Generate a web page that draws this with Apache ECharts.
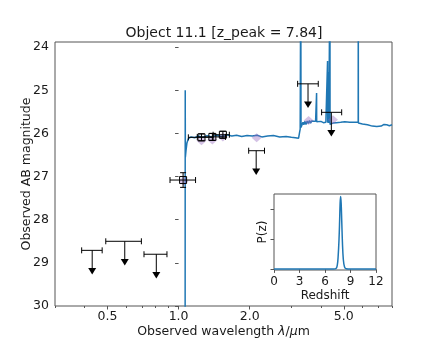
<!DOCTYPE html>
<html>
<head>
<meta charset="utf-8">
<script src="https://cdn.jsdelivr.net/npm/echarts@6/dist/echarts.min.js"></script>
<style>
html, body { margin: 0; padding: 0; background: #fff; }
#chart { width: 436px; height: 349px; }
</style>
</head>
<body>
<div id="chart"></div>
<script>
// model spectrum (wavelength in micron, AB mag)
var specLam = [0.30, 1.0655, 1.0670, 1.0685, 1.075, 1.085, 1.10, 1.13, 1.17, 1.21, 1.26, 1.32, 1.38, 1.45, 1.52, 1.60, 1.68, 1.76, 1.85, 1.95,
	2.05, 2.15, 2.25, 2.38, 2.52, 2.68, 2.85, 3.00, 3.12, 3.22, 3.245, 3.255, 3.27, 3.283, 3.289, 3.291, 3.297, 3.33, 3.36, 3.39, 3.42,
	3.46, 3.50, 3.54, 3.58, 3.62, 3.66, 3.72, 3.80, 3.833, 3.837, 3.841, 3.90, 4.00, 4.10, 4.20, 4.265, 4.27, 4.275, 4.315, 4.32,
	4.325, 4.365, 4.37, 4.375, 4.42, 4.50, 4.65, 4.85, 5.05, 5.30, 5.55, 5.755, 5.76, 5.765, 6.0, 6.3, 6.6, 6.9, 7.2, 7.4,
	7.5, 7.6, 7.8, 8.0];
var specMag = [34, 34, 25.0, 26.55, 26.40, 26.22, 26.12, 26.08, 26.10, 26.06, 26.09, 26.05, 26.08, 26.04, 26.07, 26.03, 26.06, 26.04, 26.07, 26.05,
	26.06, 26.04, 26.08, 26.06, 26.05, 26.08, 26.07, 26.09, 26.10, 26.11, 26.12, 25.96, 25.90, 25.87, 22.0, 22.0, 25.86, 25.80, 25.74, 25.80, 25.72,
	25.79, 25.71, 25.77, 25.70, 25.76, 25.71, 25.74, 25.72, 25.73, 25.06, 25.73, 25.74, 25.72, 25.75, 25.74, 25.75, 24.32, 25.75, 25.75, 24.58,
	25.76, 25.77, 22.0, 25.79, 25.82, 25.76, 25.75, 25.74, 25.73, 25.74, 25.74, 25.74, 22.0, 25.76, 25.78, 25.80, 25.83, 25.84, 25.83, 25.79,
	25.76, 25.80, 25.82, 25.80];

// model photometry
var modelLam = [1.05, 1.25, 1.39, 1.54, 2.14, 3.55, 4.50];
var modelMag = [27.10, 26.17, 26.15, 26.08, 26.10, 25.70, 25.68];

// detections
var photLam = [1.045, 1.25, 1.39, 1.54];
var photLo = [0.92, 1.10, 1.20, 1.40];
var photHi = [1.18, 1.40, 1.58, 1.64];
var photMag = [27.08, 26.09, 26.08, 26.03];
var photErr = [0.17, 0.08, 0.08, 0.08];

// upper limits
var limLam = [0.431, 0.592, 0.805, 2.13, 3.53, 4.43];
var limLo = [0.389, 0.492, 0.714, 1.98, 3.19, 4.03];
var limHi = [0.475, 0.696, 0.893, 2.31, 3.90, 4.90];
var limMag = [28.71, 28.50, 28.80, 26.40, 24.85, 25.51];
var limArrow = 0.48;

// P(z)
var pzZ = [0, 6.5, 7.0, 7.3, 7.45, 7.55, 7.65, 7.72, 7.78, 7.84, 7.90, 7.97, 8.05, 8.15, 8.3, 8.5, 9.0, 12];
var pzP = [0.01, 0.01, 0.01, 0.03, 0.15, 0.45, 1.0, 1.6, 2.2, 2.42, 2.2, 1.6, 0.9, 0.35, 0.08, 0.02, 0.01, 0.01];

var xLabels = [0.5, 1.0, 2.0, 5.0];
var xMinor = [0.3, 0.4, 0.6, 0.7, 0.8, 0.9, 3, 4, 6, 7, 8];
var yLabels = [24, 25, 26, 27, 28, 29, 30];
var pzTicks = [0, 1, 2];

var FONT = 'DejaVu Sans';
var TXT = '#1a1a1a';
var AX = '#555';
var LOG = Math.log10;

var specData = specLam.map(function (l, i) { return [LOG(l), specMag[i]]; });
var modelData = modelLam.map(function (l, i) { return [LOG(l), modelMag[i]]; });
var photData = photLam.map(function (l, i) { return [LOG(l), photMag[i], LOG(photLo[i]), LOG(photHi[i]), photErr[i]]; });
var limData = limLam.map(function (l, i) { return [LOG(l), limMag[i], LOG(limLo[i]), LOG(limHi[i]), limArrow]; });
var pzData = pzZ.map(function (z, i) { return [z, pzP[i]]; });

function seg(a, b) {
	return { type: 'line', shape: { x1: a[0], y1: a[1], x2: b[0], y2: b[1] }, style: { stroke: '#000', lineWidth: 1 } };
}

function renderPhot(params, api) {
	var c = api.coord([api.value(0), api.value(1)]);
	var l = api.coord([api.value(2), api.value(1)]);
	var r = api.coord([api.value(3), api.value(1)]);
	var t = api.coord([api.value(0), api.value(1) - api.value(4)]);
	var b = api.coord([api.value(0), api.value(1) + api.value(4)]);
	var k = 3;
	return {
		type: 'group',
		children: [
			seg(l, r), seg([l[0], l[1] - k], [l[0], l[1] + k]), seg([r[0], r[1] - k], [r[0], r[1] + k]),
			seg(t, b), seg([t[0] - k, t[1]], [t[0] + k, t[1]]), seg([b[0] - k, b[1]], [b[0] + k, b[1]]),
			{ type: 'rect', shape: { x: c[0] - 3.5, y: c[1] - 3.5, width: 7, height: 7 }, style: { fill: null, stroke: '#000', lineWidth: 1 } }
		]
	};
}

function renderLim(params, api) {
	var c = api.coord([api.value(0), api.value(1)]);
	var l = api.coord([api.value(2), api.value(1)]);
	var r = api.coord([api.value(3), api.value(1)]);
	var e = api.coord([api.value(0), api.value(1) + api.value(4)]);
	var k = 3;
	return {
		type: 'group',
		children: [
			seg(l, r), seg([l[0], l[1] - k], [l[0], l[1] + k]), seg([r[0], r[1] - k], [r[0], r[1] + k]),
			seg(c, e),
			{ type: 'polygon', shape: { points: [[e[0] - 4, e[1] - 3], [e[0] + 4, e[1] - 3], [e[0], e[1] + 3.5]] }, style: { fill: '#000' } }
		]
	};
}

var labelStyle = { fontFamily: FONT, fontSize: 12.5, color: TXT };

var option = {
	animation: false,
	title: {
		text: 'Object 11.1 [z_peak = 7.84]',
		left: 219,
		textAlign: 'center',
		top: 21,
		textStyle: { fontFamily: FONT, fontSize: 14, fontWeight: 'normal', color: TXT }
	},
	grid: [
		{ left: 55, top: 42, width: 337, height: 264, show: true, borderColor: AX, borderWidth: 1 },
		{ left: 274, top: 194, width: 102, height: 76, show: true, borderColor: AX, borderWidth: 1, backgroundColor: '#fff' }
	],
	xAxis: [
		{
			gridIndex: 0, type: 'value', position: 'bottom', min: LOG(0.3), max: LOG(8),
			axisLine: { show: false }, splitLine: { show: false },
			axisTick: { customValues: xLabels.map(LOG), length: 3.5, lineStyle: { color: AX } },
			axisLabel: Object.assign({ customValues: xLabels.map(LOG), margin: 4, formatter: function (v) { return Math.pow(10, v).toFixed(1); } }, labelStyle),
			name: 'Observed wavelength {i|λ}/{i|μ}m', nameLocation: 'middle', nameGap: 19, nameMoveOverlap: false,
			nameTextStyle: Object.assign({ rich: { i: { fontFamily: FONT, fontSize: 12.5, fontStyle: 'italic', color: TXT } } }, labelStyle)
		},
		{
			gridIndex: 0, type: 'value', position: 'bottom', min: LOG(0.3), max: LOG(8),
			axisLine: { show: false }, splitLine: { show: false }, axisLabel: { show: false },
			axisTick: { customValues: xMinor.map(LOG), length: 2, lineStyle: { color: AX } }
		},
		{
			gridIndex: 1, type: 'value', min: 0, max: 12, interval: 3,
			axisLine: { show: false }, splitLine: { show: false },
			axisTick: { length: 3.5, lineStyle: { color: AX } },
			axisLabel: Object.assign({ margin: 6 }, labelStyle, { fontSize: 12 }),
			name: 'Redshift', nameLocation: 'middle', nameGap: 20, nameMoveOverlap: false,
			nameTextStyle: Object.assign({}, labelStyle, { fontSize: 12 })
		}
	],
	yAxis: [
		{
			gridIndex: 0, type: 'value', inverse: true, min: 23.88, max: 30,
			axisLine: { show: false }, splitLine: { show: false },
			axisTick: { customValues: yLabels, length: 3.5, lineStyle: { color: AX } },
			axisLabel: Object.assign({ customValues: yLabels, margin: 6 }, labelStyle),
			name: 'Observed AB magnitude', nameLocation: 'middle', nameGap: 22, nameMoveOverlap: false,
			nameTextStyle: labelStyle
		},
		{
			gridIndex: 1, type: 'value', min: -0.02, max: 2.5,
			axisLine: { show: false }, splitLine: { show: false }, axisLabel: { show: false },
			axisTick: { customValues: pzTicks, length: 3.5, lineStyle: { color: AX } },
			name: 'P(z)', nameLocation: 'middle', nameGap: 5, nameMoveOverlap: false,
			nameTextStyle: Object.assign({}, labelStyle, { fontSize: 12 })
		}
	],
	series: [
		{
			type: 'line', xAxisIndex: 0, yAxisIndex: 0, data: specData, showSymbol: false, symbol: 'none',
			lineStyle: { color: '#1f77b4', width: 1.5 }, clip: true, z: 2
		},
		{
			type: 'scatter', xAxisIndex: 0, yAxisIndex: 0, data: modelData, symbol: 'diamond', symbolSize: [10, 9],
			itemStyle: { color: 'rgba(148,103,189,0.5)' }, z: 3
		},
		{ type: 'custom', xAxisIndex: 0, yAxisIndex: 0, data: photData, renderItem: renderPhot, z: 4 },
		{ type: 'custom', xAxisIndex: 0, yAxisIndex: 0, data: limData, renderItem: renderLim, z: 4 },
		{
			type: 'line', xAxisIndex: 2, yAxisIndex: 1, data: pzData, showSymbol: false, symbol: 'none', smooth: 0.4,
			lineStyle: { color: '#1f77b4', width: 1.5 }
		}
	]
};

var chart = echarts.init(document.getElementById('chart'));
chart.setOption(option);
</script>
</body>
</html>
